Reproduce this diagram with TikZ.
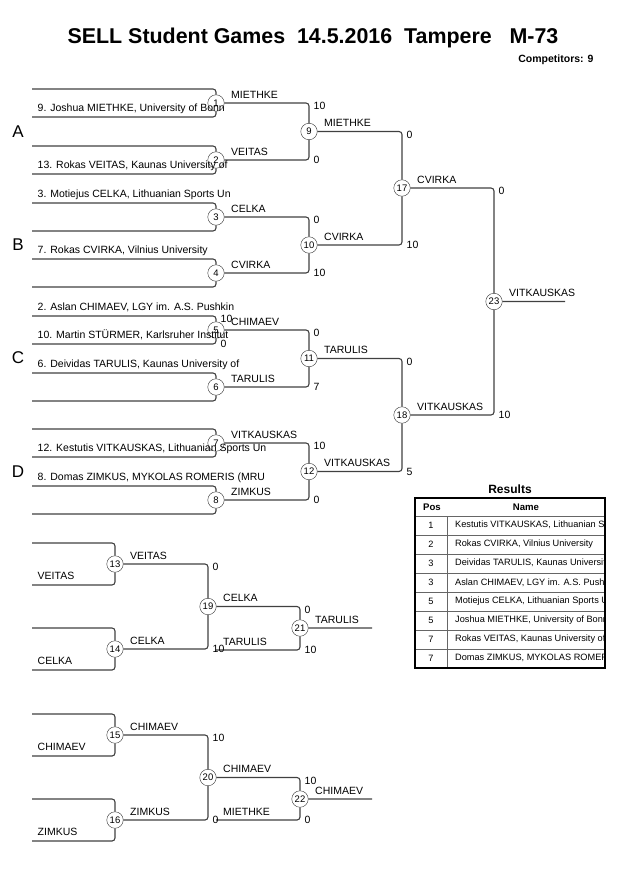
\documentclass[tikz,border=0pt]{standalone}
\usepackage{fontspec}
\setmainfont{Liberation Sans}
\usetikzlibrary{positioning}

\begin{document}
\begin{tikzpicture}[x=1pt,y=-1pt,every node/.style={font=\fontsize{10.5}{12}\selectfont}]
\tikzstyle{match}=[circle, minimum size=16.5pt, inner sep=0pt, draw=black!80, fill=white, font=\fontsize{9.5}{10}\selectfont]
\tikzstyle{bracket}=[draw=black!75, line width=1.1pt, rounded corners=3pt]
\tikzstyle{entrant}=[anchor=base west, inner sep=0pt, xshift=5.5pt, yshift=6pt]
\tikzstyle{winner}=[anchor=base west, inner sep=0pt, xshift=15pt, yshift=5pt]
\tikzstyle{carry}=[anchor=base west, inner sep=0pt, xshift=7pt, yshift=5pt]
\tikzstyle{score}=[anchor=west, inner sep=0pt, xshift=4.5pt]
\tikzstyle{scoretop}=[anchor=west, inner sep=0pt, xshift=4.5pt, yshift=-3pt]
\tikzstyle{pool}=[font=\fontsize{17}{18}\selectfont]
\tikzstyle{rowline}=[draw=black!60, line width=0.9pt]
\tikzstyle{cell}=[font=\fontsize{9.2}{11}\selectfont]
\tikzstyle{cellname}=[anchor=west, inner sep=0pt, font=\fontsize{9.2}{11}\selectfont]
\useasboundingbox (0,0) rectangle (630,891);

% heading
  \node[font=\fontsize{21.4}{24}\selectfont\bfseries] (title) at (313,38) {SELL Student Games~~14.5.2016~~Tampere~~~M-73};
  \node[anchor=east, font=\fontsize{10.5}{12}\selectfont\bfseries] (count) at (597,60) {Competitors: 9};

% main bracket, first round
  \node[match] (m1) at (216,103) {1};
  \node[match] (m2) at (216,160) {2};
  \node[match] (m3) at (216,217) {3};
  \node[match] (m4) at (216,273) {4};
  \node[match] (m5) at (216,330) {5};
  \node[match] (m6) at (216,387) {6};
  \node[match] (m7) at (216,443) {7};
  \node[match] (m8) at (216,500) {8};
  \coordinate (e1a) at (32,89);  \coordinate (e1b) at (32,117);
  \coordinate (e2a) at (32,146); \coordinate (e2b) at (32,174);
  \coordinate (e3a) at (32,203); \coordinate (e3b) at (32,231);
  \coordinate (e4a) at (32,259); \coordinate (e4b) at (32,287);
  \coordinate (e5a) at (32,316); \coordinate (e5b) at (32,344);
  \coordinate (e6a) at (32,373); \coordinate (e6b) at (32,401);
  \coordinate (e7a) at (32,429); \coordinate (e7b) at (32,457);
  \coordinate (e8a) at (32,486); \coordinate (e8b) at (32,514);
% later rounds
  \node[match] (m9) at (309,131.5) {9};
  \node[match] (m10) at (309,245) {10};
  \node[match] (m11) at (309,358.5) {11};
  \node[match] (m12) at (309,471.5) {12};
  \node[match] (m17) at (402,188) {17};
  \node[match] (m18) at (402,415) {18};
  \node[match] (m23) at (494,301.5) {23};
  \coordinate (f23) at (565,301.5);

  \path[bracket] (e1a) -| (m1) (e1b) -| (m1)
        (e2a) -| (m2) (e2b) -| (m2)
        (e3a) -| (m3) (e3b) -| (m3)
        (e4a) -| (m4) (e4b) -| (m4)
        (e5a) -| (m5) (e5b) -| (m5)
        (e6a) -| (m6) (e6b) -| (m6)
        (e7a) -| (m7) (e7b) -| (m7)
        (e8a) -| (m8) (e8b) -| (m8)
        (m1) -| (m9) (m2) -| (m9)
        (m3) -| (m10) (m4) -| (m10)
        (m5) -| (m11) (m6) -| (m11)
        (m7) -| (m12) (m8) -| (m12)
        (m9) -| (m17) (m10) -| (m17)
        (m11) -| (m18) (m12) -| (m18)
        (m17) -| (m23) (m18) -| (m23)
        (m23) -- (f23);

  \node[pool] (poolA) at (18,132) {A};
  \node[pool] (poolB) at (18,245) {B};
  \node[pool] (poolC) at (18,358) {C};
  \node[pool] (poolD) at (18,472) {D};

  \node[entrant] (n9) at (e1b) {9. Joshua MIETHKE, University of Bonn};
  \node[entrant] (n13) at (e2b) {13. Rokas VEITAS, Kaunas University of};
  \node[entrant] (n3) at (e3a) {3. Motiejus CELKA, Lithuanian Sports Un};
  \node[entrant] (n7) at (e4a) {7. Rokas CVIRKA, Vilnius University};
  \node[entrant] (n2) at (e5a) {2. Aslan CHIMAEV, LGY im. A.S. Pushkin};
  \node[entrant] (n10) at (e5b) {10. Martin STÜRMER, Karlsruher Institut};
  \node[entrant] (n6) at (e6a) {6. Deividas TARULIS, Kaunas University of};
  \node[entrant] (n12) at (e7b) {12. Kestutis VITKAUSKAS, Lithuanian Sports Un};
  \node[entrant] (n8) at (e8a) {8. Domas ZIMKUS, MYKOLAS ROMERIS (MRU};

  \node[winner] (w1) at (m1) {MIETHKE};
  \node[winner] (w2) at (m2) {VEITAS};
  \node[winner] (w3) at (m3) {CELKA};
  \node[winner] (w4) at (m4) {CVIRKA};
  \node[winner] (w5) at (m5) {CHIMAEV};
  \node[winner] (w6) at (m6) {TARULIS};
  \node[winner] (w7) at (m7) {VITKAUSKAS};
  \node[winner] (w8) at (m8) {ZIMKUS};
  \node[winner] (w9) at (m9) {MIETHKE};
  \node[winner] (w10) at (m10) {CVIRKA};
  \node[winner] (w11) at (m11) {TARULIS};
  \node[winner] (w12) at (m12) {VITKAUSKAS};
  \node[winner] (w17) at (m17) {CVIRKA};
  \node[winner] (w18) at (m18) {VITKAUSKAS};
  \node[winner] (w23) at (m23) {VITKAUSKAS};

  \node[scoretop] (s5a) at (m5 |- e5a) {10};
  \node[score] (s5b) at (m5 |- e5b) {0};
  \node[scoretop] (s9a) at (m9 |- m1) {10};
  \node[score] (s9b) at (m9 |- m2) {0};
  \node[scoretop] (s10a) at (m10 |- m3) {0};
  \node[score] (s10b) at (m10 |- m4) {10};
  \node[scoretop] (s11a) at (m11 |- m5) {0};
  \node[score] (s11b) at (m11 |- m6) {7};
  \node[scoretop] (s12a) at (m12 |- m7) {10};
  \node[score] (s12b) at (m12 |- m8) {0};
  \node[scoretop] (s17a) at (m17 |- m9) {0};
  \node[score] (s17b) at (m17 |- m10) {10};
  \node[scoretop] (s18a) at (m18 |- m11) {0};
  \node[score] (s18b) at (m18 |- m12) {5};
  \node[scoretop] (s23a) at (m23 |- m17) {0};
  \node[score] (s23b) at (m23 |- m18) {10};

% repechage brackets
  \node[match] (m13) at (115,564) {13};
  \node[match] (m14) at (115,649) {14};
  \node[match] (m19) at (208,606.5) {19};
  \node[match] (m21) at (300,628) {21};
  \node[match] (m15) at (115,735) {15};
  \node[match] (m16) at (115,820) {16};
  \node[match] (m20) at (208,777.5) {20};
  \node[match] (m22) at (300,799) {22};
  \coordinate (e13a) at (32,543); \coordinate (e13b) at (32,585);
  \coordinate (e14a) at (32,628); \coordinate (e14b) at (32,670);
  \coordinate (e15a) at (32,714); \coordinate (e15b) at (32,756);
  \coordinate (e16a) at (32,799); \coordinate (e16b) at (32,841);
  \coordinate (e21) at (216,650); \coordinate (f21) at (372,628);
  \coordinate (e22) at (216,820); \coordinate (f22) at (372,799);

  \path[bracket] (e13a) -| (m13) (e13b) -| (m13)
        (e14a) -| (m14) (e14b) -| (m14)
        (m13) -| (m19) (m14) -| (m19)
        (m19) -| (m21) (e21) -| (m21)
        (m21) -- (f21)
        (e15a) -| (m15) (e15b) -| (m15)
        (e16a) -| (m16) (e16b) -| (m16)
        (m15) -| (m20) (m16) -| (m20)
        (m20) -| (m22) (e22) -| (m22)
        (m22) -- (f22);

  \node[entrant] (r13) at (e13b) {VEITAS};
  \node[entrant] (r14) at (e14b) {CELKA};
  \node[entrant] (r15) at (e15b) {CHIMAEV};
  \node[entrant] (r16) at (e16b) {ZIMKUS};
  \node[winner] (w13) at (m13) {VEITAS};
  \node[winner] (w14) at (m14) {CELKA};
  \node[winner] (w19) at (m19) {CELKA};
  \node[carry] (c21) at (e21) {TARULIS};
  \node[winner] (w21) at (m21) {TARULIS};
  \node[winner] (w15) at (m15) {CHIMAEV};
  \node[winner] (w16) at (m16) {ZIMKUS};
  \node[winner] (w20) at (m20) {CHIMAEV};
  \node[carry] (c22) at (e22) {MIETHKE};
  \node[winner] (w22) at (m22) {CHIMAEV};

  \node[scoretop] (s19a) at (m19 |- m13) {0};
  \node[score] (s19b) at (m19 |- m14) {10};
  \node[scoretop] (s21a) at (m21 |- m19) {0};
  \node[score] (s21b) at (m21 |- e21) {10};
  \node[scoretop] (s20a) at (m20 |- m15) {10};
  \node[score] (s20b) at (m20 |- m16) {0};
  \node[scoretop] (s22a) at (m22 |- m20) {10};
  \node[score] (s22b) at (m22 |- e22) {0};

% results table
  \draw[rowline] (416,516) -- (604,516);
  \draw[rowline] (416,535) -- (604,535);
  \draw[rowline] (416,554) -- (604,554);
  \draw[rowline] (416,573) -- (604,573);
  \draw[rowline] (416,592) -- (604,592);
  \draw[rowline] (416,611) -- (604,611);
  \draw[rowline] (416,630) -- (604,630);
  \draw[rowline] (416,649) -- (604,649);
  \draw[rowline] (447,516) -- (447,668);
  \node[draw=black, line width=2pt, minimum width=190pt, minimum height=170pt, inner sep=0pt] (results) at (510,583) {};
  \node[above=0pt of results, font=\fontsize{12}{14}\selectfont\bfseries] (restitle) {Results};
  \node[anchor=west, inner sep=0pt, font=\fontsize{9.6}{11}\selectfont\bfseries] (hpos) at (423,507) {Pos};
  \node[font=\fontsize{9.6}{11}\selectfont\bfseries] (hname) at (526,507) {Name};
  \node[cell] (p1) at (431,525.5) {1};
  \node[cell] (p2) at (431,544.5) {2};
  \node[cell] (p3) at (431,563.5) {3};
  \node[cell] (p4) at (431,582.5) {3};
  \node[cell] (p5) at (431,601.5) {5};
  \node[cell] (p6) at (431,620.5) {5};
  \node[cell] (p7) at (431,639.5) {7};
  \node[cell] (p8) at (431,658.5) {7};
  \begin{scope}
  \clip (415,498) rectangle (604,668);
  \node[cellname] (q1) at (455,525.5) {Kestutis VITKAUSKAS, Lithuanian Sports Un};
  \node[cellname] (q2) at (455,544.5) {Rokas CVIRKA, Vilnius University};
  \node[cellname] (q3) at (455,563.5) {Deividas TARULIS, Kaunas University of};
  \node[cellname] (q4) at (455,582.5) {Aslan CHIMAEV, LGY im. A.S. Pushkin};
  \node[cellname] (q5) at (455,601.5) {Motiejus CELKA, Lithuanian Sports Un};
  \node[cellname] (q6) at (455,620.5) {Joshua MIETHKE, University of Bonn};
  \node[cellname] (q7) at (455,639.5) {Rokas VEITAS, Kaunas University of};
  \node[cellname] (q8) at (455,658.5) {Domas ZIMKUS, MYKOLAS ROMERIS (MRU};
  \end{scope}
\end{tikzpicture}
\end{document}
